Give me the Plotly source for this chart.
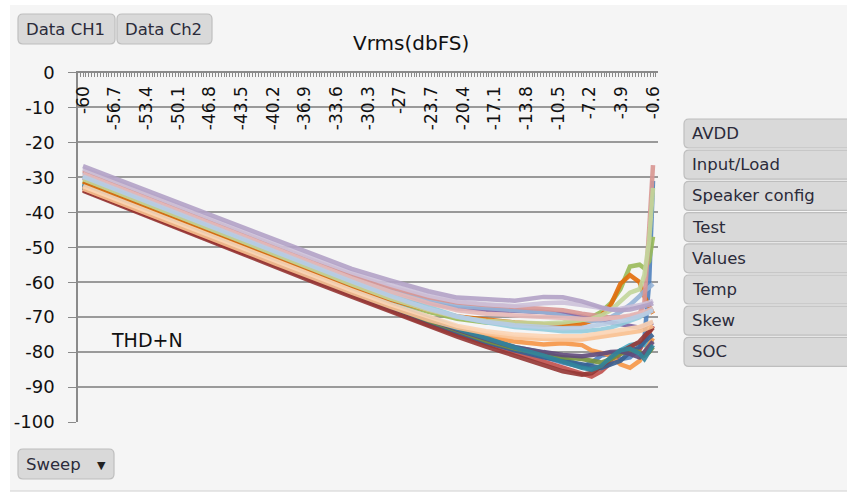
import plotly.graph_objects as go

W, H = 847, 493

# ---------------- data ----------------
x_vals = [-60, -56, -52, -48, -44, -40, -36, -32, -28, -24, -21, -18, -15, -12, -10,
          -8, -7, -6, -5, -4, -3, -2, -1.5, -1, -0.6]

tick_labels = ["-60", "-56.7", "-53.4", "-50.1", "-46.8", "-43.5", "-40.2", "-36.9",
               "-33.6", "-30.3", "-27", "-23.7", "-20.4", "-17.1", "-13.8", "-10.5",
               "-7.2", "-3.9", "-0.6"]
tick_positions = [-60, -56.7, -53.4, -50.1, -46.8, -43.5, -40.2, -36.9, -33.6, -30.3,
                  -27, -23.7, -20.4, -17.1, -13.8, -10.5, -7.2, -3.9, -0.6]
y_ticks = [0, -10, -20, -30, -40, -50, -60, -70, -80, -90, -100]
y_labels = ["0", "-10", "-20", "-30", "-40", "-50", "-60", "-70", "-80", "-90", "-100"]

s_blue = [-32.0, -36.4, -40.8, -45.1, -49.5, -53.8, -58.2, -62.4, -66.6, -70.8, -73.8, -76.5, -79.0, -81.5, -83.0, -84.2, -83.0, -81.0, -80.5, -82.0, -81.5, -79.0, -76.5, -60.0, -31.0]
s_red = [-33.5, -37.9, -42.1, -46.6, -50.8, -55.2, -59.5, -63.8, -68.0, -72.2, -75.0, -77.6, -80.2, -82.5, -84.3, -86.2, -87.0, -85.5, -83.0, -80.5, -79.0, -79.3, -77.0, -74.5, -72.5]
s_green = [-31.0, -35.4, -39.8, -44.1, -48.4, -52.7, -57.0, -61.2, -65.2, -68.5, -70.5, -71.5, -72.0, -72.3, -72.0, -71.0, -70.0, -68.5, -66.0, -62.0, -55.5, -55.0, -56.0, -54.0, -47.0]
s_purple = [-30.0, -34.3, -38.6, -43.0, -47.2, -51.5, -55.8, -60.0, -63.5, -66.0, -67.5, -68.0, -68.2, -68.5, -69.0, -69.8, -70.5, -71.0, -71.5, -72.0, -72.5, -73.0, -72.5, -72.0, -71.5]
s_teal = [-31.5, -35.8, -40.3, -44.6, -49.0, -53.3, -57.6, -61.8, -66.0, -70.0, -73.0, -75.8, -78.5, -80.2, -81.8, -84.0, -85.0, -84.5, -82.0, -79.5, -78.0, -77.5, -78.0, -77.0, -76.5]
s_orange = [-32.8, -37.0, -41.4, -45.8, -50.1, -54.5, -58.8, -62.5, -66.8, -70.5, -73.5, -75.5, -77.0, -77.8, -77.5, -78.0, -79.5, -80.2, -81.0, -83.5, -84.5, -82.5, -80.0, -78.0, -76.0]
s_dblue = [-33.0, -37.3, -41.7, -46.0, -50.4, -54.7, -59.0, -63.2, -67.4, -71.5, -74.5, -77.2, -79.5, -81.5, -82.5, -83.5, -84.0, -84.5, -83.5, -82.5, -80.0, -78.5, -77.0, -76.0, -75.0]
s_dred = [-33.8, -38.2, -42.5, -46.9, -51.2, -55.5, -59.9, -64.1, -68.3, -72.6, -75.6, -78.4, -81.0, -83.5, -85.5, -86.5, -86.0, -84.0, -82.0, -80.0, -78.5, -77.0, -75.5, -74.0, -73.0]
s_dgreen = [-32.5, -36.8, -41.2, -45.5, -49.8, -54.2, -58.4, -62.6, -66.8, -70.9, -73.9, -76.7, -79.0, -80.5, -81.5, -82.0, -82.5, -83.0, -82.0, -80.5, -79.5, -80.0, -81.0, -80.0, -78.5]
s_dpurple = [-32.2, -36.6, -41.0, -45.3, -49.6, -54.0, -58.3, -62.5, -66.6, -70.6, -73.6, -76.2, -78.6, -80.0, -80.8, -81.2, -81.0, -80.5, -80.0, -79.8, -80.5, -81.5, -80.0, -78.5, -77.0]
s_dteal = [-31.8, -36.2, -40.6, -45.0, -49.3, -53.6, -57.9, -62.1, -66.3, -70.4, -73.3, -76.0, -78.7, -81.0, -82.8, -84.5, -85.0, -84.0, -81.5, -79.5, -79.0, -80.5, -82.0, -80.0, -78.0]
s_dorange = [-31.2, -35.6, -40.0, -44.3, -48.6, -52.9, -57.2, -61.3, -65.0, -68.0, -69.8, -70.8, -71.5, -72.0, -72.2, -72.0, -71.0, -69.5, -66.5, -60.5, -58.0, -60.0, -64.0, -67.0, -69.0]
s_lblue = [-28.5, -32.8, -37.1, -41.5, -45.8, -50.1, -54.4, -58.5, -62.2, -65.2, -66.8, -67.5, -68.0, -68.5, -69.5, -70.8, -71.2, -70.8, -70.0, -68.5, -66.5, -64.0, -62.5, -61.5, -60.5]
s_rose = [-28.0, -32.3, -36.6, -41.0, -45.2, -49.5, -53.8, -57.8, -61.4, -64.3, -65.8, -66.5, -67.0, -67.5, -68.0, -69.0, -69.5, -70.0, -70.2, -70.0, -69.8, -69.0, -66.0, -45.0, -26.5]
s_lgreen = [-30.5, -34.8, -39.2, -43.5, -47.8, -52.1, -56.4, -60.6, -64.6, -68.0, -70.0, -71.0, -71.5, -71.8, -71.5, -71.0, -70.5, -69.5, -68.0, -65.5, -63.0, -62.0, -58.0, -48.0, -33.0]
s_lteal = [-29.5, -33.8, -38.2, -42.5, -46.8, -51.1, -55.4, -59.5, -63.4, -67.2, -69.8, -71.5, -72.8, -73.5, -74.0, -74.0, -73.8, -73.5, -73.0, -72.0, -71.0, -70.0, -69.0, -68.0, -67.5]
s_peach = [-33.2, -37.4, -41.7, -46.0, -50.3, -54.6, -58.9, -63.0, -67.0, -70.8, -73.0, -74.6, -75.8, -76.3, -76.5, -76.4, -76.0, -75.8, -75.5, -75.0, -74.5, -74.0, -73.5, -73.0, -72.5]
s_ppink = [-29.0, -33.3, -37.6, -41.9, -46.2, -50.5, -54.8, -58.9, -62.7, -66.0, -68.0, -69.0, -69.5, -70.0, -70.2, -70.5, -70.6, -70.5, -70.3, -70.0, -69.5, -69.0, -68.5, -68.0, -67.5]
s_pblue = [-29.8, -34.1, -38.5, -42.8, -47.1, -51.4, -55.7, -59.8, -63.9, -67.6, -69.8, -71.3, -72.3, -73.0, -73.2, -73.0, -72.6, -72.2, -71.8, -71.2, -70.5, -69.8, -69.2, -68.6, -68.0]
s_ppeach = [-32.5, -36.8, -41.0, -45.3, -49.6, -53.9, -58.2, -62.3, -66.3, -70.0, -72.5, -74.0, -75.0, -75.5, -75.6, -75.4, -75.0, -74.6, -74.2, -73.8, -73.3, -72.8, -72.3, -71.8, -71.3]
s_plav = [-27.5, -31.8, -36.1, -40.3, -44.6, -48.9, -53.2, -57.2, -60.7, -63.8, -65.5, -66.3, -66.8, -66.0, -65.8, -66.5, -67.0, -67.5, -67.8, -67.6, -67.2, -66.8, -66.3, -65.8, -65.3]
s_lavender = [-26.8, -31.0, -35.3, -39.6, -43.8, -48.1, -52.3, -56.2, -59.5, -62.6, -64.4, -65.0, -65.3, -64.2, -64.3, -65.5, -66.5, -67.2, -67.8, -68.0, -67.8, -67.2, -66.8, -66.5, -66.0]

series = [
    ("S1", s_blue, "#4F81BD"), ("S2", s_red, "#C0504D"), ("S3", s_green, "#9BBB59"),
    ("S4", s_purple, "#8064A2"), ("S5", s_teal, "#4BACC6"), ("S6", s_orange, "#F79646"),
    ("S7", s_dblue, "#376092"), ("S8", s_dred, "#953735"), ("S9", s_dgreen, "#77933C"),
    ("S10", s_dpurple, "#604A7B"), ("S11", s_dteal, "#31859C"), ("S12", s_dorange, "#E46C0A"),
    ("S13", s_lblue, "#95B3D7"), ("S14", s_rose, "#D99694"), ("S15", s_lgreen, "#C3D69B"),
    ("S16", s_lteal, "#93CDDD"), ("S17", s_peach, "#FAC090"), ("S18", s_ppink, "#E6B9B8"),
    ("S19", s_pblue, "#B9CDE5"), ("S20", s_ppeach, "#FCD5B5"), ("S21", s_plav, "#CCC1DA"),
    ("S22", s_lavender, "#B3A2C7"),
]

right_buttons = ["AVDD", "Input/Load", "Speaker config", "Test", "Values", "Temp", "Skew", "SOC"]
top_buttons = ["Data CH1", "Data Ch2"]

# ---------------- figure ----------------
fig = go.Figure()
for name, vals, col in series:
    fig.add_trace(go.Scatter(x=x_vals, y=vals, mode="lines", name=name,
                             line=dict(color=col, width=4.5), opacity=0.9,
                             hoverinfo="skip"))

def px(x):
    return x / W

def py(y):
    return 1 - y / H

def rrect(x0, y0, x1, y1, r=5):
    rx, ry = r / W, r / H
    a, b, c, d = px(x0), py(y0), px(x1), py(y1)  # b top, d bottom
    return (f"M {a+rx} {b} L {c-rx} {b} Q {c} {b} {c} {b-ry} L {c} {d+ry} "
            f"Q {c} {d} {c-rx} {d} L {a+rx} {d} Q {a} {d} {a} {d+ry} "
            f"L {a} {b-ry} Q {a} {b} {a+rx} {b} Z")

shapes = []
annotations = []
FONT = "DejaVu Sans"
TXT = "#2b2b3a"

# panel background
shapes.append(dict(type="rect", xref="paper", yref="paper", x0=px(10), x1=1,
                   y0=py(491), y1=py(5), fillcolor="#F5F5F5", line=dict(width=0),
                   layer="below"))
shapes.append(dict(type="line", xref="paper", yref="paper", x0=px(10), x1=1,
                   y0=py(491), y1=py(491), line=dict(color="#D0D0D0", width=1),
                   layer="below"))

def button(x0, y0, x1, y1, label):
    shapes.append(dict(type="path", xref="paper", yref="paper", path=rrect(x0, y0, x1, y1),
                       fillcolor="#D9D9D9", line=dict(color="#BEBEBE", width=1.2),
                       layer="above"))
    annotations.append(dict(text=label, xref="paper", yref="paper", x=px(x0 + 6),
                            y=py((y0 + y1) / 2), xanchor="left", yanchor="middle",
                            showarrow=False, font=dict(family=FONT, size=16.5, color=TXT)))

button(18, 14, 115, 44, top_buttons[0])
button(117, 14, 212, 44, top_buttons[1])
button(18, 449, 114, 479, "Sweep")
annotations.append(dict(text="▼", xref="paper", yref="paper", x=px(101), y=py(465),
                        xanchor="center", yanchor="middle", showarrow=False,
                        font=dict(family=FONT, size=11, color="#222")))

for i, lab in enumerate(right_buttons):
    y0 = 119 + i * 31.2
    button(684, y0, 860, y0 + 29, lab)

annotations.append(dict(text="Vrms(dbFS)", xref="paper", yref="paper", x=px(411), y=py(43),
                        xanchor="center", yanchor="middle", showarrow=False,
                        font=dict(family=FONT, size=20, color="#111")))
annotations.append(dict(text="THD+N", x=-57.3, y=-76.5, xref="x", yref="y",
                        xanchor="left", yanchor="middle", showarrow=False,
                        font=dict(family=FONT, size=19, color="#111")))

k = (653 - 83) / 59.4
xr = [-60 - 5 / k, -0.6 + 5 / k]

fig.update_layout(
    width=W, height=H,
    margin=dict(l=0, r=0, t=0, b=0, autoexpand=False),
    paper_bgcolor="white", plot_bgcolor="rgba(0,0,0,0)",
    showlegend=False, hovermode=False,
    shapes=shapes, annotations=annotations,
    xaxis=dict(domain=[px(78), px(658)], range=xr, side="top", automargin=False,
               tickmode="array", tickvals=tick_positions, ticktext=tick_labels,
               tickangle=-90, ticklabelposition="inside", ticklabeloverflow="allow",
               ticks="inside", ticklen=5, tickcolor="#8A8A8A",
               minor=dict(ticks="inside", ticklen=5, tickmode="linear", tick0=-60,
                          dtick=0.3, tickcolor="#8A8A8A", showgrid=False),
               showgrid=False, zeroline=False, showline=True,
               linecolor="#8A8A8A", linewidth=1.5,
               tickfont=dict(family=FONT, size=17, color="#111")),
    yaxis=dict(domain=[py(422), py(72.5)], range=[-100, 0], automargin=False,
               tickmode="array", tickvals=y_ticks, ticktext=y_labels,
               ticks="outside", ticklen=8, tickcolor="#8A8A8A",
               ticklabeloverflow="allow", ticklabelstandoff=10,
               showgrid=True, gridcolor="#9A9A9A", gridwidth=1.5,
               zeroline=False, showline=True, linecolor="#8A8A8A", linewidth=1.5,
               tickfont=dict(family=FONT, size=18, color="#111")),
)

fig.write_html("out.html", config={"displayModeBar": False},
               post_script="document.body.style.margin='0';document.body.style.padding='0';")
